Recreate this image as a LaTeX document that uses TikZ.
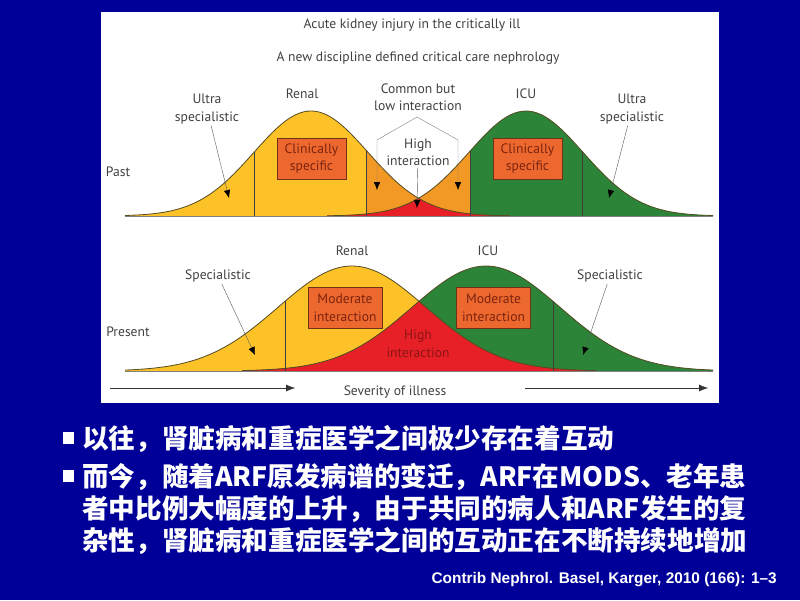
\documentclass[tikz,border=0pt]{standalone}
\usepackage{fontspec}
\setmainfont{PT Sans}
\newfontfamily\cjkfont{Noto Sans CJK SC}
\newfontfamily\citefont{Liberation Sans}
\usetikzlibrary{arrows.meta}
\definecolor{slideblue}{RGB}{0,0,153}
\definecolor{renalyellow}{RGB}{252,194,40}
\definecolor{mixorange}{RGB}{242,152,36}
\definecolor{highred}{RGB}{230,32,38}
\definecolor{icugreen}{RGB}{44,132,56}
\definecolor{boxorange}{RGB}{236,104,46}
\definecolor{boxedge}{RGB}{110,50,25}
\definecolor{boxtext}{RGB}{125,35,15}
\definecolor{labelgray}{RGB}{65,65,65}
\definecolor{curveedge}{RGB}{85,75,35}

\begin{document}
\begin{tikzpicture}[x=1pt,y=-1pt,
  declare function={
    pastR(\x)=216-105*exp(-0.5*((\x-311)/57)^2);
    pastI(\x)=216-105*exp(-0.5*((\x-526)/57)^2);
    nowR(\x)=371-105*exp(-0.5*((\x-352)/74)^2);
    nowI(\x)=371-105*exp(-0.5*((\x-486)/74)^2);
  }]

%
% Styles
%
\tikzstyle{label}    = [text=labelgray,font=\fontsize{13.6}{17.5}\selectfont,align=center,inner sep=1.5pt]
\tikzstyle{specbox}  = [label,draw=boxedge,fill=boxorange,text=boxtext,minimum height=41pt,inner sep=1pt]
\tikzstyle{hightext} = [label,text={rgb,255:red,140;green,20;blue,20}]
\tikzstyle{pointer}  = [-{Latex[length=8pt,width=6.5pt,color=black]},draw=black!65,thin]
\tikzstyle{hexline}  = [{Latex[length=8pt,width=6.5pt,color=black]}-{Latex[length=8pt,width=6.5pt,color=black]},draw=black!50,thin]
\tikzstyle{axisarrow}= [-{Latex[length=9pt,width=7pt]},draw=black!80,thin]
\tikzstyle{curve}    = [draw=curveedge,line width=0.8pt]
\tikzstyle{divider}  = [draw=black!75,line width=0.8pt]
\tikzstyle{ground}   = [draw=gray,line width=1pt]
\tikzstyle{cjkline}  = [anchor=base west,text=white,inner sep=0pt,font=\cjkfont\bfseries\fontsize{26.6}{32}\selectfont]
\tikzstyle{bulletsq} = [fill=white,minimum size=11.5pt,inner sep=0pt]

\useasboundingbox (0,0) rectangle (800,600);
\fill[slideblue] (0,0) rectangle (800,600);
\fill[white] (101,12) rectangle (719,403);

% past: filled areas
\fill[renalyellow] (125,216) -- plot[domain=125:366,samples=60] (\x,{pastR(\x)}) -- (366,216) -- cycle;
\fill[mixorange] (366,216) -- plot[domain=366:510,samples=50] (\x,{pastR(\x)}) -- (510,216) -- cycle;
\fill[mixorange] (327,216) -- plot[domain=327:470,samples=50] (\x,{pastI(\x)}) -- (470,216) -- cycle;
\fill[icugreen] (470,216) -- plot[domain=470:713,samples=60] (\x,{pastI(\x)}) -- (713,216) -- cycle;
\fill[highred] (327,216) -- plot[domain=327:418.5,samples=40] (\x,{pastI(\x)})
  -- plot[domain=418.5:510,samples=40] (\x,{pastR(\x)}) -- (510,216) -- cycle;
\draw[curve] plot[domain=125:510,samples=100] (\x,{pastR(\x)});
\draw[curve] plot[domain=327:713,samples=100] (\x,{pastI(\x)});
\foreach \vx in {254,366} \draw[divider] (\vx,216) -- (\vx,{pastR(\vx)});
\foreach \vx in {470,582} \draw[divider] (\vx,216) -- (\vx,{pastI(\vx)});
\draw[ground] (125,216) -- (713,216);

% present: filled areas
\fill[renalyellow] (125,371) -- plot[domain=125:596,samples=100] (\x,{nowR(\x)}) -- (596,371) -- cycle;
\fill[icugreen] (242,371) -- plot[domain=242:713,samples=100] (\x,{nowI(\x)}) -- (713,371) -- cycle;
\fill[highred] (242,371) -- plot[domain=242:419,samples=50] (\x,{nowI(\x)})
  -- plot[domain=419:596,samples=50] (\x,{nowR(\x)}) -- (596,371) -- cycle;
\draw[curve] plot[domain=125:596,samples=100] (\x,{nowR(\x)});
\draw[curve] plot[domain=242:713,samples=100] (\x,{nowI(\x)});
\draw[divider] (285,371) -- (285,{nowR(285)});
\draw[divider] (553,371) -- (553,{nowI(553)});
\draw[ground] (125,371) -- (713,371);

% past: labels
\node[label] (title)    at (412,25)  {Acute kidney injury in the critically ill};
\node[label] (subtitle) at (418,58)  {A new discipline defined critical care nephrology};
\node[label] (past)     at (118,172) {Past};
\node[label] (ultraL)   at (207,109) {Ultra\\specialistic};
\node[label] (renalP)   at (302,94)  {Renal};
\node[label] (commonP)  at (418,97)  {Common but\\low interaction};
\node[label] (icuP)     at (526,94)  {ICU};
\node[label] (ultraR)   at (632,109) {Ultra\\specialistic};
\node[specbox,minimum width=69pt] (clinR) at (311.5,158.5) {Clinically\\specific};
\node[specbox,minimum width=69pt] (clinI) at (527.5,158.5) {Clinically\\specific};
\node[label] (highP)    at (418,152.5) {High\\interaction};

\coordinate (ultraLtip) at (229,198);
\coordinate (ultraRtip) at (609,198);
\coordinate (highPtip)  at (417,208);
\coordinate (hexLtip)   at (377,190);
\coordinate (hexL)      at (377,140);
\coordinate (hexTop)    at (417,117);
\coordinate (hexR)      at (458,140);
\coordinate (hexRtip)   at (458,190);

\draw[pointer] (ultraL) -- (ultraLtip);
\draw[pointer] (ultraR) -- (ultraRtip);
\draw[pointer] (highP) -- (highPtip);
\draw[hexline] (hexLtip) -- (hexL) -- (hexTop) -- (hexR) -- (hexRtip);

% present: labels
\node[label] (present)  at (128,332) {Present};
\node[label] (renalN)   at (352,251) {Renal};
\node[label] (icuN)     at (488,251) {ICU};
\node[label] (specL)    at (218,276) {Specialistic};
\node[label] (specR)    at (610,276) {Specialistic};
\node[specbox,minimum width=74pt] (modR) at (345,308)   {Moderate\\interaction};
\node[specbox,minimum width=74pt] (modI) at (493.5,308) {Moderate\\interaction};
\node[hightext] (highN) at (418,344) {High\\interaction};
\node[label] (severity) at (395,392) {Severity of illness};

\coordinate (specLtip) at (255,355);
\coordinate (specRtip) at (583,355);
\coordinate (sevL0) at (110,388);
\coordinate (sevL1) at (295,388);
\coordinate (sevR0) at (525,388);
\coordinate (sevR1) at (708,388);

\draw[pointer] (specL) -- (specLtip);
\draw[pointer] (specR) -- (specRtip);
\draw[axisarrow] (sevL0) -- (sevL1);
\draw[axisarrow] (sevR0) -- (sevR1);

% slide text
\node[bulletsq] (bul1) at (68.5,438) {};
\node[bulletsq] (bul2) at (68.5,476) {};
\node[cjkline] (line1) at (82,448) {以往，肾脏病和重症医学之间极少存在着互动};
\node[cjkline] (line2) at (82,486) {而今，随着ARF原发病谱的变迁，ARF在MODS、老年患};
\node[cjkline] (line3) at (82,518) {者中比例大幅度的上升，由于共同的病人和ARF发生的复};
\node[cjkline] (line4) at (82,550) {杂性，肾脏病和重症医学之间的互动正在不断持续地增加};
\node[anchor=base east,text=white,inner sep=0pt,font=\citefont\bfseries\fontsize{15.4}{18}\selectfont] (cite)
  at (777,583) {Contrib Nephrol. Basel, Karger, 2010 (166): 1–3};

\end{tikzpicture}
\end{document}
